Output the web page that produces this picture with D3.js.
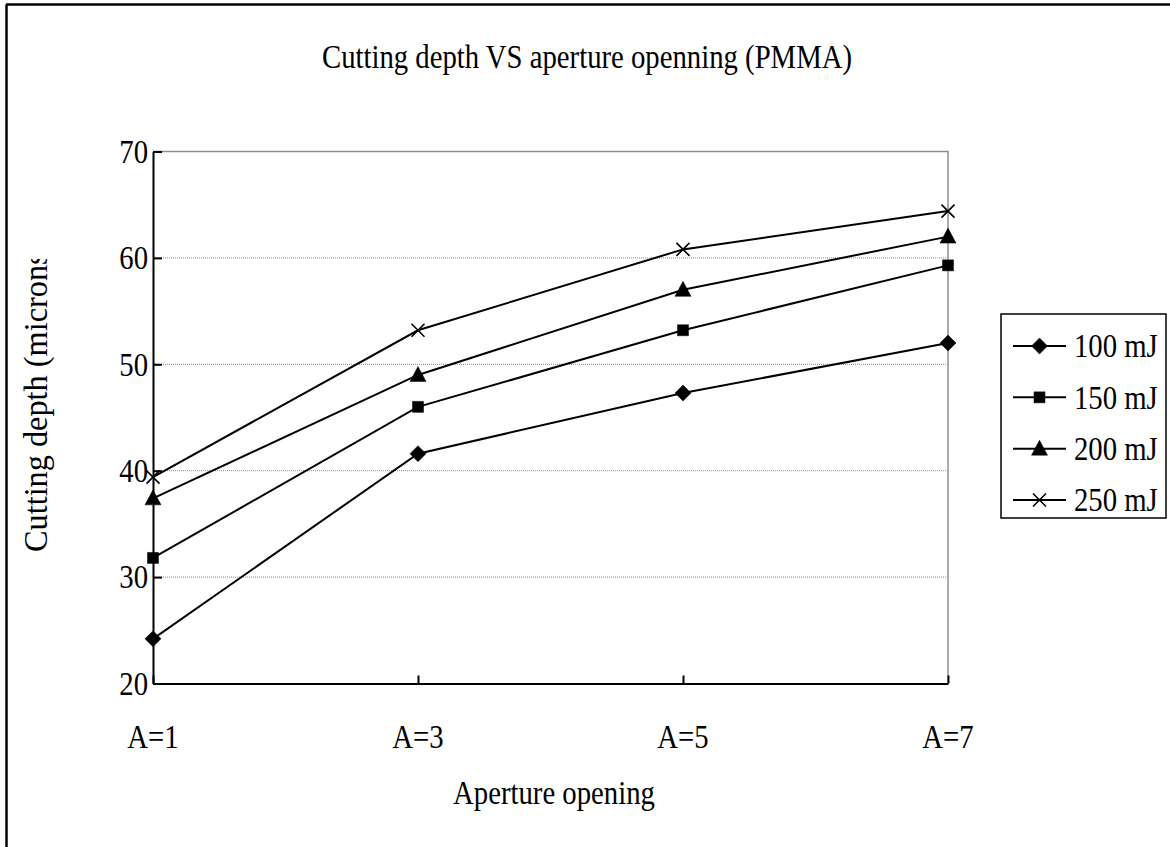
<!DOCTYPE html>
<html>
<head>
<meta charset="utf-8">
<script src="https://cdn.jsdelivr.net/npm/d3@7"></script>
<style>
  html, body { margin: 0; padding: 0; background: #fff; }
  svg { display: block; }
  text { font-family: "Times New Roman", "Liberation Serif", serif; fill: #000; }
</style>
</head>
<body>
<svg id="chart" width="1170" height="847"></svg>
<script>
// Aperture settings along the horizontal axis
const categories = ["A=1", "A=3", "A=5", "A=7"];

// Pulse energy series
const seriesNames = ["100 mJ", "150 mJ", "200 mJ", "250 mJ"];

// Cutting depth (microns) per aperture, one array per energy
const depth100 = [24.2, 41.6, 47.3, 52.0];
const depth150 = [31.8, 46.0, 53.2, 59.3];
const depth200 = [37.4, 49.0, 57.0, 62.0];
const depth250 = [39.4, 53.2, 60.8, 64.4];

// Value axis ticks
const yTicks = [20, 30, 40, 50, 60, 70];

const chartTitle = "Cutting depth VS aperture openning (PMMA)";
const xTitle = "Aperture opening";
const yTitle = "Cutting depth (microns)";

const seriesValues = [depth100, depth150, depth200, depth250];
const markerKinds = ["diamond", "square", "triangle", "cross"];

const svg = d3.select("#chart");
const FONT = 34;
const SQUEEZE = 0.845;   // narrow setting of the serif face

// Place a narrow-set text label at (x, y), optionally rotated
function label(parent, str, px, py, opts = {}) {
  const { anchor = "start", baseline = null, rotate = 0, squeeze = SQUEEZE } = opts;
  const t = parent.append("text")
    .attr("transform", `translate(${px},${py}) rotate(${rotate}) scale(${squeeze},1)`)
    .attr("text-anchor", anchor)
    .attr("font-size", FONT)
    .text(str);
  if (baseline) t.attr("dominant-baseline", baseline);
  return t;
}

// Outer frame of the chart object
svg.append("line").attr("x1", 6).attr("x2", 1170).attr("y1", 4.5).attr("y2", 4.5)
  .attr("stroke", "#000").attr("stroke-width", 2.5);
svg.append("line").attr("x1", 6.5).attr("x2", 6.5).attr("y1", 4.5).attr("y2", 847)
  .attr("stroke", "#000").attr("stroke-width", 2.5);

// Plot area
const plot = { left: 153, right: 948, top: 151.5, bottom: 683.5 };

const x = d3.scalePoint().domain(categories).range([plot.left, plot.right]);
const y = d3.scaleLinear().domain([20, 70]).range([plot.bottom, plot.top]);

// Horizontal gridlines
svg.append("g")
  .selectAll("line")
  .data(yTicks.filter(t => t > 20 && t < 70))
  .join("line")
  .attr("x1", plot.left).attr("x2", plot.right)
  .attr("y1", d => y(d)).attr("y2", d => y(d))
  .attr("stroke", "#8a8a8a").attr("stroke-width", 1)
  .attr("stroke-dasharray", "1,1");

// Grey top and right edges of the plot area
svg.append("path")
  .attr("d", `M${plot.left},${y(70)}H${plot.right}V${plot.bottom}`)
  .attr("fill", "none").attr("stroke", "#8f8f8f").attr("stroke-width", 1.5);

// Value axis (ticks inward)
const yAxis = svg.append("g")
  .attr("transform", `translate(${plot.left},0)`)
  .call(d3.axisRight(y).tickValues(yTicks).tickSize(9).tickSizeOuter(0).tickFormat(""));
yAxis.select(".domain").attr("stroke", "#000").attr("stroke-width", 2);
yAxis.selectAll(".tick line").attr("stroke", "#000").attr("stroke-width", 2);

const yLabels = svg.append("g");
yTicks.forEach(t => label(yLabels, String(t), 148, y(t), { anchor: "end", baseline: "central" }));

// Category axis (ticks inward)
const xAxis = svg.append("g")
  .attr("transform", `translate(0,${plot.bottom})`)
  .call(d3.axisTop(x).tickSize(8).tickSizeOuter(0).tickFormat(""));
xAxis.select(".domain").attr("stroke", "#000").attr("stroke-width", 2);
xAxis.selectAll(".tick line").attr("stroke", "#000").attr("stroke-width", 2);

const xLabels = svg.append("g");
categories.forEach(c => label(xLabels, c, x(c), 748, { anchor: "middle" }));

// Titles
label(svg, chartTitle, 587, 68, { anchor: "middle" });
label(svg, xTitle, 554, 804, { anchor: "middle" });

// Vertical title, cut off where it runs past its slot
svg.append("clipPath").attr("id", "ytitle-clip")
  .append("rect").attr("x", 0).attr("y", 259).attr("width", 120).attr("height", 500);
const yTitleGroup = svg.append("g").attr("clip-path", "url(#ytitle-clip)");
label(yTitleGroup, yTitle, 47, 552, { rotate: -90, squeeze: 0.95 });

// Marker shapes
function markerPath(kind) {
  switch (kind) {
    case "diamond": return "M0,-8L8,0L0,8L-8,0Z";
    case "square": return "M-5.5,-5.5H5.5V5.5H-5.5Z";
    case "triangle": return "M0,-8.5L8,6.5H-8Z";
    default: return "M-6.5,-6.5L6.5,6.5M-6.5,6.5L6.5,-6.5";
  }
}
function drawMarker(g, kind) {
  const filled = kind !== "cross";
  g.append("path")
    .attr("d", markerPath(kind))
    .attr("fill", filled ? "#000" : "none")
    .attr("stroke", "#000")
    .attr("stroke-width", filled ? 0.5 : 1.6);
}

// Series lines and markers
const line = d3.line().x((d, i) => x(categories[i])).y(d => y(d));
seriesValues.forEach((vals, s) => {
  svg.append("path")
    .datum(vals)
    .attr("d", line)
    .attr("fill", "none")
    .attr("stroke", "#000")
    .attr("stroke-width", 2);
  vals.forEach((v, i) => {
    const g = svg.append("g").attr("transform", `translate(${x(categories[i])},${y(v)})`);
    drawMarker(g, markerKinds[s]);
  });
});

// Legend
const legend = svg.append("g");
legend.append("rect")
  .attr("x", 1001).attr("y", 314).attr("width", 165).attr("height", 204)
  .attr("fill", "#fff").attr("stroke", "#000").attr("stroke-width", 1.5);

const legendY = d3.scalePoint().domain(seriesNames).range([346, 500]);
seriesNames.forEach((name, s) => {
  const ly = legendY(name);
  legend.append("line")
    .attr("x1", 1013).attr("x2", 1066).attr("y1", ly).attr("y2", ly)
    .attr("stroke", "#000").attr("stroke-width", 2);
  const g = legend.append("g").attr("transform", `translate(1039.5,${ly})`);
  drawMarker(g, markerKinds[s]);
  label(legend, name, 1074, ly, { baseline: "central" });
});
</script>
</body>
</html>
